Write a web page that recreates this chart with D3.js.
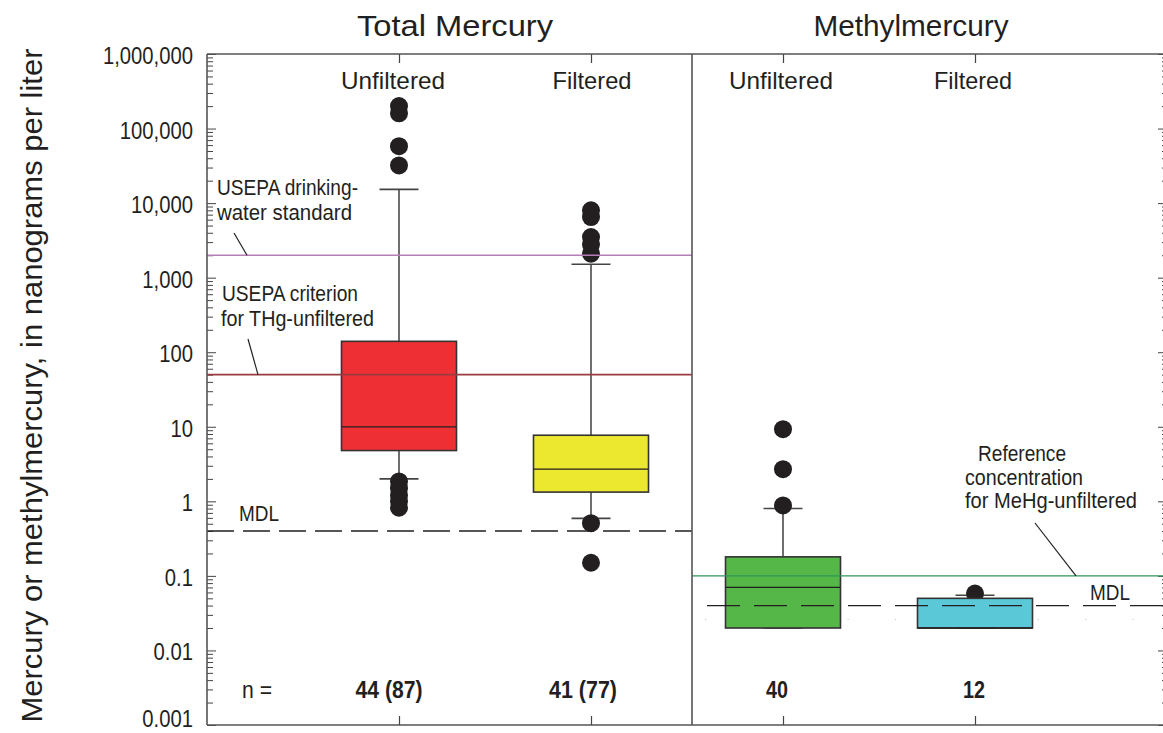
<!DOCTYPE html>
<html>
<head>
<meta charset="utf-8">
<script src="https://cdn.jsdelivr.net/npm/d3@7"></script>
<style>
  html, body { margin: 0; padding: 0; background: #fff; }
  svg { display: block; }
  text { font-family: "Liberation Sans", Arial, sans-serif; fill: #231f20; }
</style>
</head>
<body>
<svg id="chart" width="1163" height="733"></svg>
<script>
// ---------------- data ----------------
const panels = ["Total Mercury", "Methylmercury"];
const categories = ["Unfiltered", "Filtered", "Unfiltered", "Filtered"];
const categoryPanel = [0, 0, 1, 1];
const boxColors = ["#ee3034", "#ebe82f", "#55b748", "#5bc8d8"];
const q1 = [4.8, 1.33, 0.02, 0.02];
const medians = [10, 2.7, 0.07, 0.02];
const q3 = [140, 7.7, 0.18, 0.05];
const whiskerLow = [2.0, 0.59, 0.02, 0.02];
const whiskerHigh = [15300, 1510, 0.8, 0.055];
const outliers = [
  [200000, 160000, 58000, 32000, 1.85, 1.5, 1.2, 1.0, 0.82],
  [8000, 6500, 3500, 2800, 2100, 0.51, 0.15],
  [9.3, 2.7, 0.88],
  [0.058]
];
const nLabels = ["44 (87)", "41 (77)", "40", "12"];
const yTickValues = [0.001, 0.01, 0.1, 1, 10, 100, 1000, 10000, 100000, 1000000];
const yTickLabels = ["0.001", "0.01", "0.1", "1", "10", "100", "1,000", "10,000", "100,000", "1,000,000"];
const drinkingWaterStd = 2000;      // USEPA drinking-water standard (THg panel)
const criterionTHg = 50;            // USEPA criterion for THg-unfiltered
const mdlTHg = 0.4;                 // MDL, total mercury
const mdlMeHg = 0.04;               // MDL, methylmercury
const referenceMeHg = 0.1;          // reference concentration MeHg-unfiltered
const faintMeHg = 0.026;

// ---------------- layout ----------------
const svg = d3.select("#chart");
const L = 207, R = 1167, T = 54, B = 725;
const x = d3.scaleLinear().domain([0, 5]).range([L, R]);
const y = d3.scaleLog().domain([0.001, 1e6]).range([B, T]);
const divider = x(2.5) + 5;
const boxW = 115, capW = 39;

// condensed text helper (fits text to a measured width)
function label(parent, px, py, str, size, width, anchor, weight) {
  const t = parent.append("text").attr("x", px).attr("y", py)
    .attr("text-anchor", anchor || "start").style("font-size", size + "px").text(str);
  if (weight) t.style("font-weight", weight);
  if (width) t.attr("textLength", width).attr("lengthAdjust", "spacingAndGlyphs");
  return t;
}

// minor ticks
const minor = [];
for (let e = -3; e < 6; e++) for (let m = 2; m <= 9; m++) minor.push(m * Math.pow(10, e));

// ---------------- axes ----------------
const gy = svg.append("g").attr("transform", `translate(${L},0)`)
  .call(d3.axisRight(y).tickValues(yTickValues).tickSize(9).tickFormat(""));
const gyMinor = svg.append("g").attr("transform", `translate(${L},0)`)
  .call(d3.axisRight(y).tickValues(minor).tickSize(6).tickFormat(""));
const gyR = svg.append("g").attr("transform", `translate(${R},0)`)
  .call(d3.axisLeft(y).tickValues(yTickValues).tickSize(9).tickFormat(""));
const gyRMinor = svg.append("g").attr("transform", `translate(${R},0)`)
  .call(d3.axisLeft(y).tickValues(minor).tickSize(5).tickFormat(""));
[gy, gyMinor, gyR, gyRMinor].forEach(g => {
  g.select(".domain").remove();
  g.selectAll(".tick line").attr("stroke", "#444").attr("stroke-width", 1);
});

// tick labels (condensed via horizontal scale)
svg.append("g").selectAll("text").data(yTickValues).join("text")
  .attr("transform", d => `translate(${L - 14},${Math.min(y(d) + 10, 727)}) scale(0.88,1)`)
  .attr("text-anchor", "end").style("font-size", "23px")
  .text((d, i) => yTickLabels[i]);

// top/bottom category ticks
const catIdx = categories.map((c, i) => i + 1);
const gTop = svg.append("g").attr("transform", `translate(0,${T})`)
  .call(d3.axisBottom(x).tickValues(catIdx).tickSize(9).tickFormat(""));
const gBot = svg.append("g").attr("transform", `translate(0,${B})`)
  .call(d3.axisTop(x).tickValues(catIdx).tickSize(9).tickFormat(""));
[gTop, gBot].forEach(g => {
  g.select(".domain").remove();
  g.selectAll(".tick line").attr("stroke", "#444").attr("stroke-width", 1.2);
});

// faint dotted line in MeHg panel
svg.append("line")
  .attr("x1", divider + 13).attr("x2", R).attr("y1", y(faintMeHg)).attr("y2", y(faintMeHg))
  .attr("stroke", "#c8c8c8").attr("stroke-width", 1).attr("stroke-dasharray", "1.2,46.3");

// ---------------- boxes ----------------
const gBoxes = svg.append("g");
categories.forEach((c, i) => {
  const cx = x(i + 1);
  const g = gBoxes.append("g");
  g.append("line").attr("x1", cx).attr("x2", cx).attr("y1", y(q3[i])).attr("y2", y(whiskerHigh[i]))
    .attr("stroke", "#231f20").attr("stroke-width", 1.3);
  g.append("line").attr("x1", cx).attr("x2", cx).attr("y1", y(q1[i])).attr("y2", y(whiskerLow[i]))
    .attr("stroke", "#231f20").attr("stroke-width", 1.3);
  [whiskerHigh[i], whiskerLow[i]].forEach(v => {
    g.append("line").attr("x1", cx - capW / 2).attr("x2", cx + capW / 2)
      .attr("y1", y(v)).attr("y2", y(v)).attr("stroke", "#444").attr("stroke-width", 1.6);
  });
  g.selectAll("circle").data(outliers[i]).join("circle")
    .attr("cx", cx).attr("cy", d => y(d)).attr("r", 9).attr("fill", "#231f20");
  g.append("rect").attr("x", cx - boxW / 2).attr("width", boxW)
    .attr("y", y(q3[i])).attr("height", y(q1[i]) - y(q3[i]))
    .attr("fill", boxColors[i]).attr("stroke", "#333").attr("stroke-width", 1.6);
  g.append("line").attr("x1", cx - boxW / 2).attr("x2", cx + boxW / 2)
    .attr("y1", y(medians[i])).attr("y2", y(medians[i]))
    .attr("stroke", "#231f20").attr("stroke-width", 1.3);
});

// ---------------- reference lines ----------------
svg.append("line").attr("x1", L).attr("x2", divider)
  .attr("y1", y(drinkingWaterStd)).attr("y2", y(drinkingWaterStd))
  .attr("stroke", "#b77db5").attr("stroke-width", 1.6);
svg.append("line").attr("x1", L).attr("x2", divider)
  .attr("y1", y(criterionTHg)).attr("y2", y(criterionTHg))
  .attr("stroke", "#9a3b40").attr("stroke-width", 1.6);
svg.append("line").attr("x1", L).attr("x2", divider)
  .attr("y1", y(mdlTHg)).attr("y2", y(mdlTHg))
  .attr("stroke", "#231f20").attr("stroke-width", 1.3).attr("stroke-dasharray", "27,9");
svg.append("line").attr("x1", divider).attr("x2", R)
  .attr("y1", y(referenceMeHg)).attr("y2", y(referenceMeHg))
  .attr("stroke", "#2f9659").attr("stroke-width", 1.4);
svg.append("line").attr("x1", divider + 15).attr("x2", R)
  .attr("y1", y(mdlMeHg)).attr("y2", y(mdlMeHg))
  .attr("stroke", "#231f20").attr("stroke-width", 1.3).attr("stroke-dasharray", "33,14");

// ---------------- frame ----------------
const frame = svg.append("g").attr("stroke", "#555").attr("stroke-width", 1.6).attr("fill", "none");
frame.append("line").attr("x1", L).attr("x2", L).attr("y1", T).attr("y2", B);
frame.append("line").attr("x1", L).attr("x2", R).attr("y1", T).attr("y2", T);
frame.append("line").attr("x1", L).attr("x2", R).attr("y1", B).attr("y2", B);
frame.append("line").attr("x1", R).attr("x2", R).attr("y1", T).attr("y2", B);
frame.append("line").attr("x1", divider).attr("x2", divider).attr("y1", T).attr("y2", B);

// ---------------- text ----------------
label(svg, 455, 36, panels[0], 30, 196, "middle");
label(svg, 911, 36, panels[1], 30, 195, "middle");

const catLabelX = [393, 592, 781, 973];
const catLabelW = [104, 79, 104, 78];
categories.forEach((c, i) => label(svg, catLabelX[i], 89, c, 24, catLabelW[i], "middle"));

label(svg, 242, 698, "n =", 23, 30, "start");
const nX = [389, 583, 777, 974];
const nW = [67, 68, 22, 22];
nLabels.forEach((n, i) => label(svg, nX[i], 698, n, 23, nW[i], "middle", "bold"));

// y axis title
label(svg, 0, 0, "Mercury or methylmercury, in nanograms per liter", 29, 674, "middle")
  .attr("x", null).attr("y", null)
  .attr("transform", `translate(42,${(T + B) / 2 - 4}) rotate(-90)`);

// annotations
const ann = svg.append("g");
label(ann, 217, 195, "USEPA drinking-", 22, 141);
label(ann, 217, 220, "water standard", 22, 135);
label(ann, 222, 301, "USEPA criterion", 22, 136);
label(ann, 221, 326, "for THg-unfiltered", 22, 153);
label(ann, 239, 521, "MDL", 22, 40);
label(ann, 1090, 600, "MDL", 22, 40);
label(ann, 978, 461, "Reference", 22, 88);
label(ann, 965, 485, "concentration", 22, 118);
label(ann, 965, 508, "for MeHg-unfiltered", 22, 172);

const leaders = svg.append("g").attr("stroke", "#231f20").attr("stroke-width", 1.2);
leaders.append("line").attr("x1", 234).attr("y1", 233).attr("x2", 247).attr("y2", y(drinkingWaterStd));
leaders.append("line").attr("x1", 248).attr("y1", 339).attr("x2", 258).attr("y2", y(criterionTHg));
leaders.append("line").attr("x1", 1035).attr("y1", 523).attr("x2", 1076).attr("y2", y(referenceMeHg));
</script>
</body>
</html>
